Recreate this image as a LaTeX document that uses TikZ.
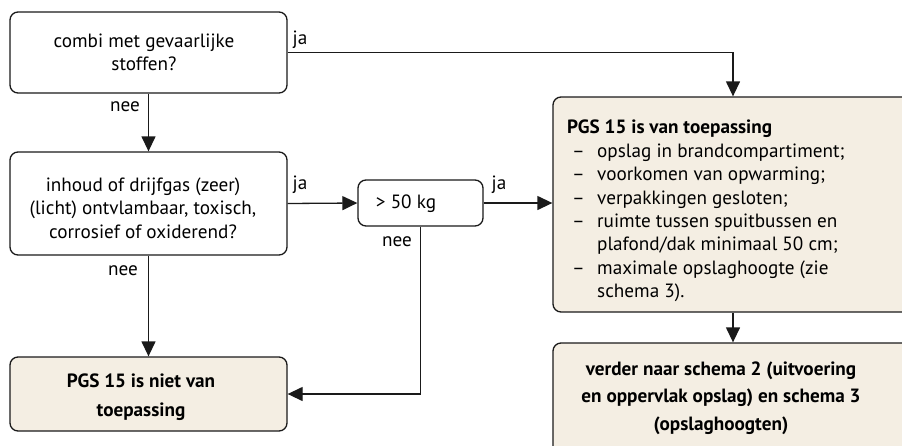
\documentclass[tikz,border=0pt]{standalone}
\usepackage{fontspec}
\setmainfont{PT Sans}
\usetikzlibrary{arrows.meta}
\definecolor{beige}{HTML}{F4EEE3}
\definecolor{edge}{HTML}{1A1A1A}
\begin{document}
\begin{tikzpicture}[x=1pt,y=-1pt,
  box/.style={draw=edge,line width=1.3pt,rounded corners=8pt,inner sep=0pt},
  qbox/.style={box,fill=white},
  rbox/.style={box,fill=beige},
  txt/.style={font=\fontsize{19.2}{23.4}\selectfont,align=center,inner sep=0pt},
  lab/.style={font=\fontsize{19.2}{23}\selectfont,inner sep=0pt},
  arr/.style={draw=edge,line width=1.3pt,-{Triangle[length=15pt,width=14pt]}}]
\useasboundingbox (0,0) rectangle (902,445);
\clip (0,0) rectangle (902,445);
% boxes
\node[qbox,minimum width=277pt,minimum height=81pt] (A) at (148.5,52.5) {};
\node[txt] (At) at (144,52.5) {combi met gevaarlijke\\stoffen?};
\node[qbox,minimum width=277pt,minimum height=103pt] (B) at (148.5,203.5) {};
\node[txt] (Bt) at (143,208) {inhoud of drijfgas (zeer)\\(licht) ontvlambaar, toxisch,\\corrosief of oxiderend?};
\node[qbox,minimum width=125pt,minimum height=46pt] (C) at (420.5,203) {};
\node[txt] (Ct) at (406,204) {> 50 kg};
\node[rbox,minimum width=277pt,minimum height=74pt] (D) at (148.5,394) {};
\node[txt,font=\fontsize{19.2}{29}\selectfont\bfseries] (Dt) at (141,397) {PGS 15 is niet van\\toepassing};
\node[rbox,minimum width=360pt,minimum height=215pt] (E) at (733,204.5) {};
\node[txt,align=left,anchor=west] (Et) at (567,211) {%
\textbf{PGS 15 is van toepassing}\\
\makebox[30pt][l]{\hspace{5pt}–}opslag in brandcompartiment;\\
\makebox[30pt][l]{\hspace{5pt}–}voorkomen van opwarming;\\
\makebox[30pt][l]{\hspace{5pt}–}verpakkingen gesloten;\\
\makebox[30pt][l]{\hspace{5pt}–}ruimte tussen spuitbussen en\\
\hspace*{30pt}plafond/dak minimaal 50 cm;\\
\makebox[30pt][l]{\hspace{5pt}–}maximale opslaghoogte (zie\\
\hspace*{30pt}schema 3).};
\node[rbox,minimum width=360pt,minimum height=115pt] (F) at (733,400.5) {};
\node[txt,font=\fontsize{19.2}{27.5}\selectfont\bfseries] (Ft) at (721,398) {verder naar schema 2 (uitvoering\\en oppervlak opslag) en schema 3\\(opslaghoogten)};
% connectors
\draw[arr] (A.east) -| (E.north);
\draw[arr] (A.south) -- (B.north);
\draw[arr] (B.east) -- (C.west);
\draw[arr] (C.east) -- (C.east -| E.west);
\draw[arr] (C.south) |- (D.east);
\draw[arr] (B.south) -- (D.north);
\draw[arr] (E.south) -- (F.north);
% labels
\node[lab] (l1) at (300,40) {ja};
\node[lab] (l2) at (125,107) {nee};
\node[lab] (l3) at (300,185) {ja};
\node[lab] (l4) at (499,185) {ja};
\node[lab] (l5) at (397,242) {nee};
\node[lab] (l6) at (123,271) {nee};
\end{tikzpicture}
\end{document}
